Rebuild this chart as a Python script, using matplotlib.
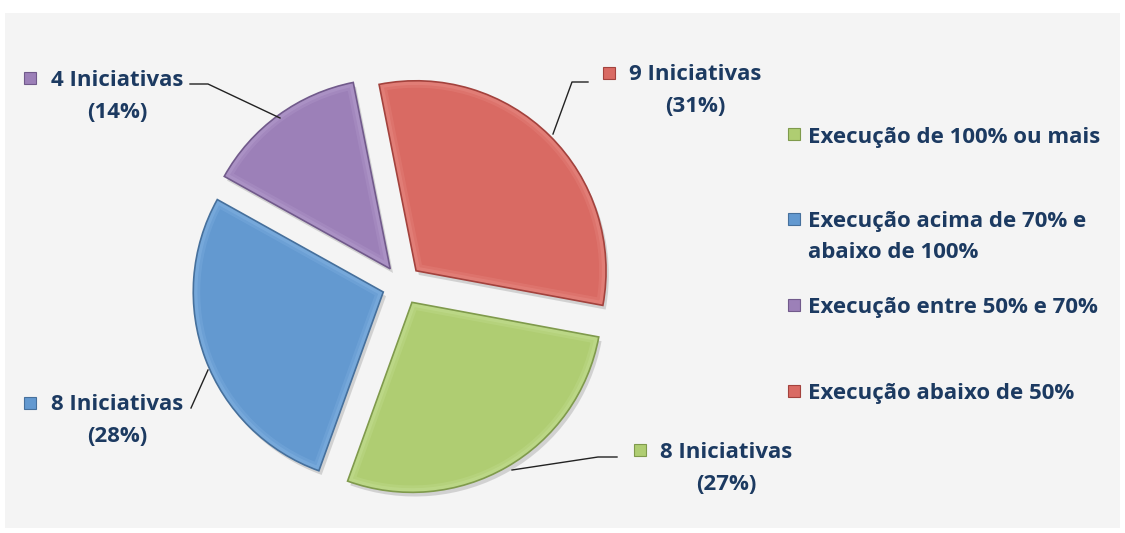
import matplotlib
matplotlib.use("Agg")
import matplotlib.pyplot as plt
from matplotlib.patches import Rectangle, Wedge
import matplotlib.patheffects as pe

# ---- data ----
categories = ["Execução de 100% ou mais",
              "Execução acima de 70% e\nabaixo de 100%",
              "Execução entre 50% e 70%",
              "Execução abaixo de 50%"]
counts = [8, 8, 4, 9]
pct_labels = ["27%", "28%", "14%", "31%"]
colors = ["#afcd72", "#6399d0", "#9c80b8", "#d96a63"]
edge_colors = ["#7f9a4c", "#46709c", "#715a8b", "#a3423d"]
light_colors = ["#c9e29a", "#8ab8e6", "#b9a2d2", "#ea918a"]

W, H = 1125, 533
fig = plt.figure(figsize=(W / 100, H / 100), dpi=100)
fig.patch.set_facecolor("white")
ax = fig.add_axes([0, 0, 1, 1])

def Y(py):
    return H - py

# gray chart area
ax.add_patch(Rectangle((5, Y(528)), 1115, 515, facecolor="#f4f4f4", edgecolor="none", zorder=0))

cx, cy, R = 402, Y(285), 190
wedges, _ = ax.pie(counts, colors=colors, startangle=-10.5, counterclock=False,
                   radius=R, center=(cx, cy), explode=[20, 20, 20, 20],
                   wedgeprops=dict(linewidth=0, zorder=2))
for w, ec, lc in zip(wedges, edge_colors, light_colors):
    w.set_path_effects([pe.SimplePatchShadow(offset=(2, -3), shadow_rgbFace="#b0b0b0", alpha=0.5), pe.Normal()])
    # soft bevel: lighter inner rim clipped to the wedge, then darker outline
    for lw, a in [(10, 0.25), (6, 0.35)]:
        rim = Wedge(w.center, w.r, w.theta1, w.theta2, facecolor="none", edgecolor=lc,
                    linewidth=lw, zorder=2.1, alpha=a)
        ax.add_patch(rim)
        rim.set_clip_path(w)
    outline = Wedge(w.center, w.r, w.theta1, w.theta2, facecolor="none", edgecolor=ec,
                    linewidth=1.2, zorder=2.2)
    ax.add_patch(outline)

ax.set_xlim(0, W)
ax.set_ylim(0, H)
ax.set_aspect("equal")
ax.axis("off")

txt_color = "#1c3a61"
font = "Open Sans"
fs = 16

def key(x, py, i, size=12):
    ax.add_patch(Rectangle((x, Y(py) - size / 2), size, size, facecolor=colors[i],
                           edgecolor=edge_colors[i], linewidth=0.8, zorder=4))

# data labels: (index, key x, first line y, text center x, leader points)
labels = [
    (0, 634, 452, 726, [(617, 457), (598, 457), (512, 470)]),
    (1, 24, 405, 117, [(191, 408), (208, 370)]),
    (2, 24, 80, 117, [(190, 84), (208, 84), (280, 118)]),
    (3, 603, 75, 695, [(588, 82), (572, 82), (553, 134)]),
]
for i, kx, ly, tcx, pts in labels:
    key(kx, ly - 2, i)
    ax.text(tcx, Y(ly), f"{counts[i]} Iniciativas", ha="center", va="center",
            fontsize=fs, fontweight="bold", color=txt_color, family=font, zorder=5)
    ax.text(tcx, Y(ly + 32), f"({pct_labels[i]})", ha="center", va="center",
            fontsize=fs, fontweight="bold", color=txt_color, family=font, zorder=5)
    xs = [p[0] for p in pts]
    ys = [Y(p[1]) for p in pts]
    ax.plot(xs, ys, color="#222222", linewidth=1.0, zorder=3)

# legend
leg_y = [137, 222, 308, 394]
for i, (cat, ly) in enumerate(zip(categories, leg_y)):
    key(788, ly - 3, i)
    lines = cat.split("\n")
    for j, line in enumerate(lines):
        ax.text(808, Y(ly + 31 * j), line, ha="left", va="center",
                fontsize=fs, fontweight="bold", color=txt_color, family=font, zorder=5)

fig.savefig("out.png", dpi=100, facecolor="white")
